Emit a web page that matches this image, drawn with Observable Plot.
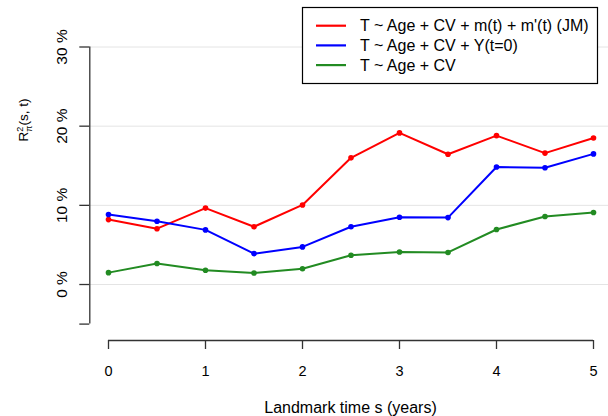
<!DOCTYPE html>
<html>
<head>
<meta charset="utf-8">
<script src="https://cdn.jsdelivr.net/npm/d3@7"></script>
<script src="https://cdn.jsdelivr.net/npm/@observablehq/plot@0.6"></script>
<style>
  body { margin: 0; background: #fff; }
  svg { display: block; }
</style>
</head>
<body>
<div id="chart"></div>
<script>
// Landmark times (years) at which the predictive accuracy was evaluated
const landmarkTimes = [0, 0.5, 1, 1.5, 2, 2.5, 3, 3.5, 4, 4.5, 5];

// R²_π(s, t) in percent for each model
const r2JointModel = [8.2, 7.05, 9.65, 7.3, 10.05, 16.0, 19.15, 16.45, 18.8, 16.6, 18.5];
const r2Baseline   = [8.85, 8.0, 6.9, 3.9, 4.75, 7.3, 8.5, 8.45, 14.85, 14.75, 16.5];
const r2AgeCv      = [1.5, 2.65, 1.8, 1.45, 2.0, 3.7, 4.1, 4.05, 6.95, 8.6, 9.1];

const seriesNames = [
  "T ~ Age + CV + m(t) + m'(t) (JM)",
  "T ~ Age + CV + Y(t=0)",
  "T ~ Age + CV"
];
const seriesColors = ["#ff0000", "#0000ff", "#228b22"];

const xTicks = [0, 1, 2, 3, 4, 5];
const yTicks = [0, 10, 20, 30];
const yTickLabels = ["0 %", "10 %", "20 %", "30 %"];
const yAxisEnd = -5;

const rows = [r2JointModel, r2Baseline, r2AgeCv].flatMap((values, i) =>
  values.map((v, j) => ({ s: landmarkTimes[j], r2: v, model: seriesNames[i] }))
);

const font = "'Liberation Sans', Arial, Helvetica, sans-serif";
const axisColor = "#333";
const axisShiftX = -18.7;   // y axis sits left of the data region
const axisShiftY = 16.4;    // x axis sits below the data region

const chart = Plot.plot({
  width: 608,
  height: 416,
  marginLeft: 108,
  marginRight: 15,
  marginTop: 46.5,
  marginBottom: 92.4,
  style: { fontFamily: font, background: "#fff", color: "#000", overflow: "visible" },
  x: { domain: [0, 5], axis: null },
  y: { domain: [yAxisEnd, 30], axis: null },
  color: { domain: seriesNames, range: seriesColors },
  marks: [
    // light horizontal reference lines
    Plot.ruleY(yTicks, { stroke: "#e4e4e4", strokeWidth: 1, insetLeft: -18, insetRight: -15 }),

    // y axis
    Plot.ruleX([0], { y1: yAxisEnd, y2: 30, dx: axisShiftX, stroke: axisColor, strokeWidth: 1.3 }),
    Plot.axisY({
      ticks: [yAxisEnd, ...yTicks],
      tickSize: 10,
      tickPadding: 12.6,
      tickRotate: -90,
      dx: axisShiftX,
      stroke: axisColor,
      strokeWidth: 1.3,
      fill: "#000",
      tickFormat: d => { const i = yTicks.indexOf(d); return i < 0 ? "" : yTickLabels[i]; },
      label: null
    }),

    // x axis
    Plot.ruleY([yAxisEnd], { x1: 0, x2: 5, dy: axisShiftY, stroke: axisColor, strokeWidth: 1.3 }),
    Plot.axisX({
      ticks: xTicks,
      tickSize: 9,
      tickPadding: 16,
      dy: axisShiftY,
      stroke: axisColor,
      strokeWidth: 1.3,
      fill: "#000",
      tickFormat: d => String(d),
      label: null
    }),

    // model series
    Plot.line(rows, { x: "s", y: "r2", z: "model", stroke: "model", strokeWidth: 2 }),
    Plot.dot(rows, { x: "s", y: "r2", fill: "model", r: 2.8 })
  ]
});

document.getElementById("chart").appendChild(chart);

const svg = d3.select(chart);

// tick label sizes (the only text Plot draws here are the tick labels)
svg.selectAll("text").each(function () {
  const isPercent = this.textContent.includes("%");
  d3.select(this)
    .attr("font-size", isPercent ? 15.5 : 14.5)
    .style("font-size", isPercent ? "15.5px" : "14.5px")
    .style("font-family", font);
  d3.select(this.parentNode).attr("font-size", null);
});

// axis titles
svg.append("text")
  .attr("x", 350.5)
  .attr("y", 412.5)
  .attr("text-anchor", "middle")
  .style("font-family", font)
  .style("font-size", "16px")
  .attr("fill", "#000")
  .text("Landmark time s (years)");

const yTitle = svg.append("text")
  .attr("transform", "translate(28,120) rotate(-90)")
  .attr("text-anchor", "middle")
  .style("font-family", font)
  .style("font-size", "13.5px")
  .attr("fill", "#000");
yTitle.append("tspan").text("R");
yTitle.append("tspan").attr("dy", -5).style("font-size", "9px").text("2");
yTitle.append("tspan").attr("dx", -5).attr("dy", 8.5).style("font-size", "9px").text("π");
yTitle.append("tspan").attr("dy", -3.5).text("(s, t)");

// legend
const legend = svg.append("g")
  .attr("text-anchor", "start")
  .style("font-family", font)
  .style("font-size", "16px");
legend.append("rect")
  .attr("x", 302.5).attr("y", 7.5)
  .attr("width", 295).attr("height", 76)
  .attr("fill", "#fff").attr("stroke", "#000").attr("stroke-width", 1.2);
seriesNames.forEach((name, i) => {
  const y = 25.7 + i * 19.7;
  legend.append("line")
    .attr("x1", 316).attr("x2", 346).attr("y1", y).attr("y2", y)
    .attr("stroke", seriesColors[i]).attr("stroke-width", 2.2);
  legend.append("text")
    .attr("x", 360).attr("y", y).attr("dy", "0.36em")
    .attr("text-anchor", "start")
    .attr("fill", "#000")
    .text(name);
});
</script>
</body>
</html>
